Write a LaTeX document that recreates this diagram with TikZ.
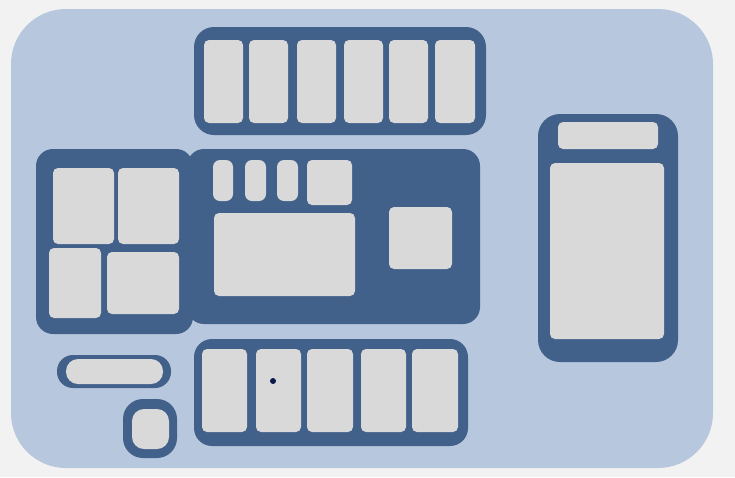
\documentclass[tikz,border=0pt]{standalone}
\definecolor{pagebg}{HTML}{F2F2F2}
\definecolor{panel}{HTML}{B7C7DD}
\definecolor{frame}{HTML}{41608A}
\definecolor{cell}{HTML}{D9D9D9}
\definecolor{dotc}{HTML}{0A1A4A}
\begin{document}
\begin{tikzpicture}[x=1pt,y=-1pt,
  framebox/.style={fill=frame},
  cellbox/.style={fill=cell}]
\fill[pagebg] (0,0) rectangle (735,477);
\useasboundingbox (0,0) rectangle (735,477);
% main panel
\fill[panel,rounded corners=55] (11,9) rectangle (713,468);
% top box
\fill[framebox,rounded corners=20] (194,27) rectangle (486,135);
\foreach \a/\b in {204/243,249/288,297/336,344/383,389/428,435/475}
  \fill[cellbox,rounded corners=5] (\a,40) rectangle (\b,123);
% left box
\fill[framebox,rounded corners=17] (36,149) rectangle (193,334);
% middle box
\fill[framebox,rounded corners=17] (187,149) rectangle (480,324);
\fill[cellbox,rounded corners=5] (53,168) rectangle (114,244);
\fill[cellbox,rounded corners=5] (118,168) rectangle (179,244);
\fill[cellbox,rounded corners=5] (49,248) rectangle (101,318);
\fill[cellbox,rounded corners=5] (107,252) rectangle (179,314);
\foreach \a/\b in {213/233,245/266,277/298}
  \fill[cellbox,rounded corners=7] (\a,160) rectangle (\b,201);
\fill[cellbox,rounded corners=5] (307,160) rectangle (352,205);
\fill[cellbox,rounded corners=5] (214,213) rectangle (355,296);
\fill[cellbox,rounded corners=5] (389,207) rectangle (452,269);
% right box
\fill[framebox,rounded corners=22] (538,114) rectangle (678,362);
\fill[cellbox,rounded corners=5] (558,122) rectangle (658,149);
\fill[cellbox,rounded corners=5] (550,163) rectangle (664,339);
% pill
\fill[framebox,rounded corners=16] (57,355) rectangle (171,388);
\fill[cellbox,rounded corners=12] (66,359) rectangle (163,384);
% small square
\fill[framebox,rounded corners=20] (123,399) rectangle (177,458);
\fill[cellbox,rounded corners=12] (132,409) rectangle (169,449);
% bottom box
\fill[framebox,rounded corners=18] (194,339) rectangle (468,446);
\foreach \a/\b in {202/247,256/301,307/353,361/406,412/458}
  \fill[cellbox,rounded corners=5] (\a,349) rectangle (\b,432);
\fill[dotc] (273,381) circle (3);
\end{tikzpicture}
\end{document}
